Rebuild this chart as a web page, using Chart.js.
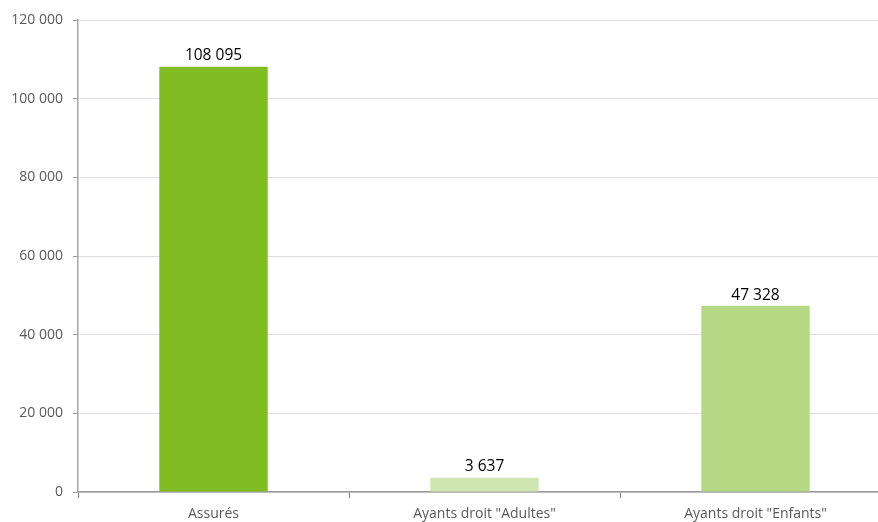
<!DOCTYPE html>
<html>
<head>
<meta charset="utf-8">
<script src="https://cdn.jsdelivr.net/npm/chart.js@4"></script>
<style>
  html, body { margin: 0; padding: 0; background: #fff; overflow: hidden; }
  #wrap { width: 878px; height: 522px; overflow: hidden; }
  canvas { display: block; }
</style>
</head>
<body>
<div id="wrap"><canvas id="graph" width="895" height="522" style="width:895px;height:522px"></canvas></div>
<script>
// Données
const categories = ['Assurés', 'Ayants droit "Adultes"', 'Ayants droit "Enfants"'];
const effectifs = [108095, 3637, 47328];
const couleurs = ['#80bc22', '#d0e6b0', '#b5d885'];
const yMax = 120000;
const yPas = 20000;

const police = '"Open Sans", Lato, sans-serif';

function formatNombre(v) {
    return String(v).replace(/\B(?=(\d{3})+(?!\d))/g, ' ');
}

// étiquettes au-dessus des barres
const etiquettes = {
    id: 'etiquettes',
    afterDatasetsDraw(chart) {
        const ctx = chart.ctx;
        const meta = chart.getDatasetMeta(0);
        ctx.save();
        ctx.font = '15.5px ' + police;
        ctx.fillStyle = '#000';
        ctx.textAlign = 'center';
        ctx.textBaseline = 'bottom';
        meta.data.forEach((bar, i) => {
            ctx.fillText(formatNombre(effectifs[i]), bar.x, bar.y - 3);
        });
        ctx.restore();
    }
};

new Chart(document.getElementById('graph'), {
    type: 'bar',
    data: {
        labels: categories,
        datasets: [{
            data: effectifs,
            backgroundColor: couleurs,
            borderWidth: 0,
            categoryPercentage: 1,
            barPercentage: 0.4
        }]
    },
    options: {
        responsive: false,
        devicePixelRatio: 1,
        animation: false,
        layout: { padding: { top: 20, right: 4, left: 0, bottom: 0 } },
        plugins: {
            legend: { display: false },
            tooltip: { enabled: false }
        },
        scales: {
            x: {
                offset: true,
                grid: {
                    offset: true,
                    drawOnChartArea: false,
                    drawTicks: true,
                    tickLength: 6,
                    color: '#808080',
                    lineWidth: 1
                },
                border: { color: '#9a9a9a', width: 1.5 },
                ticks: {
                    color: '#595959',
                    font: { family: police, size: 14 },
                    padding: 8
                },
                afterFit: s => { s.height = 30; }
            },
            y: {
                min: 0,
                max: yMax,
                grid: {
                    color: '#bdbdbd',
                    lineWidth: 1,
                    tickLength: 5,
                    tickColor: '#9a9a9a'
                },
                border: { color: '#a6a6a6', width: 1.5, dash: [1, 1] },
                ticks: {
                    stepSize: yPas,
                    color: '#595959',
                    font: { family: police, size: 14 },
                    padding: 10,
                    callback: v => formatNombre(v)
                },
                afterFit: s => { s.width = 78; }
            }
        }
    },
    plugins: [etiquettes]
});
</script>
</body>
</html>
